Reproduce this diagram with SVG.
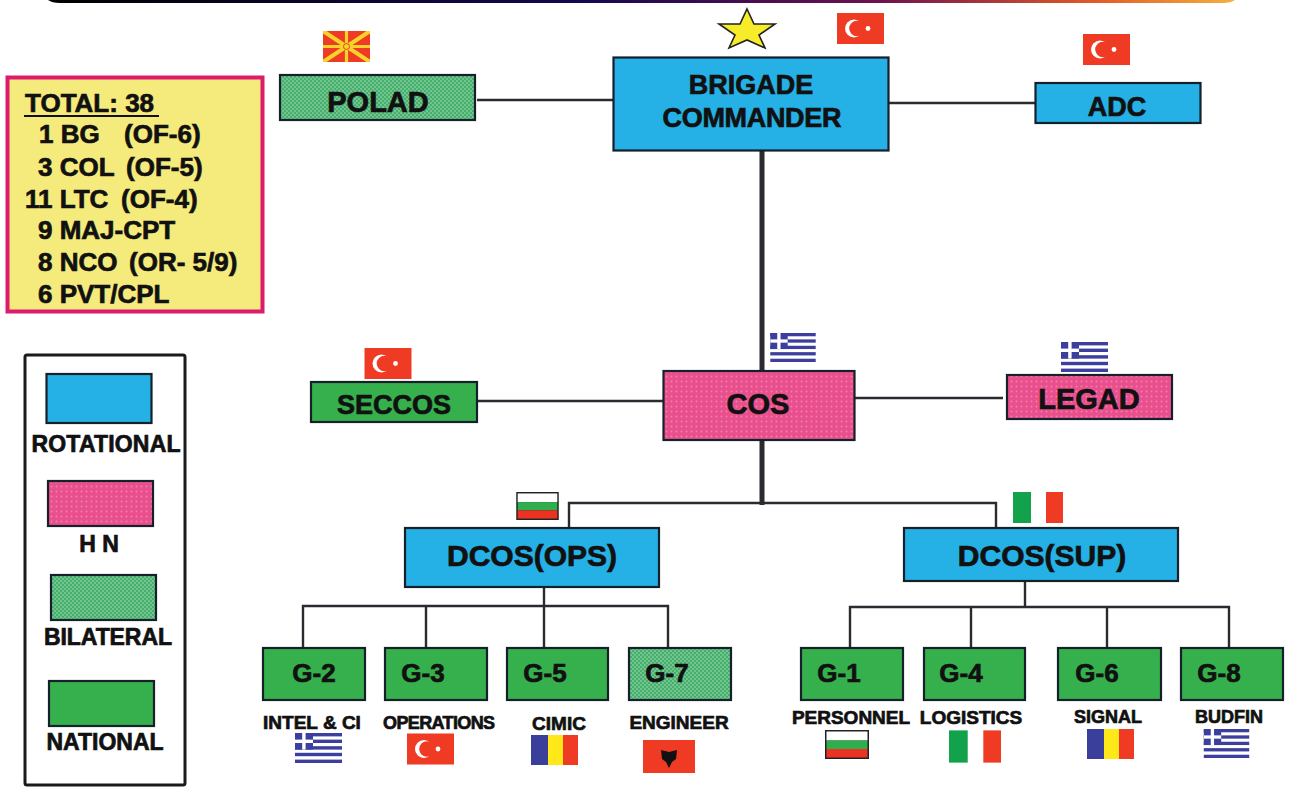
<svg xmlns="http://www.w3.org/2000/svg" xmlns:xlink="http://www.w3.org/1999/xlink" width="1290" height="787" viewBox="0 0 1290 787">
<style>
text{font-family:"Liberation Sans",Arial,sans-serif;font-weight:700;fill:#111;stroke:#111;stroke-width:.7}
.box{stroke:#15202b;stroke-width:2.2}
.rot{fill:#25b0e6}.hn{fill:url(#pHN)}.bi{fill:url(#pBI)}.nat{fill:#36b04c}
.c{text-anchor:middle}
.n{font-size:27px}.w{font-size:29px}.d{font-size:30px}.g{font-size:26px}.s{font-size:19px}.ss{font-size:18px}.l{font-size:23px}.t{font-size:26px}
#connectors path{fill:none;stroke:#2b2a30;stroke-width:2.4}
#connectors path.thick{stroke-width:5}
</style>
<defs>
<linearGradient id="bar" x1="0" x2="1" y1="0" y2="0"><stop offset="0" stop-color="#000"/><stop offset=".45" stop-color="#14084f"/><stop offset=".7" stop-color="#6d1250"/><stop offset=".88" stop-color="#df5a26"/><stop offset="1" stop-color="#f5b03c"/></linearGradient>
<pattern id="pHN" width="5" height="5" patternUnits="userSpaceOnUse"><rect width="5" height="5" fill="#e94f8d"/><circle cx="1.500" cy="1.500" r="1" fill="#ef7fab"/></pattern>
<pattern id="pBI" width="4" height="4" patternUnits="userSpaceOnUse"><rect width="4" height="4" fill="#45b06c"/><rect x="0" y="0" width="2" height="2" fill="#74c492"/><rect x="2" y="2" width="2" height="2" fill="#74c492"/></pattern>
<symbol id="gr" viewBox="0 0 47 30"><rect width="47" height="30" fill="#fff"/><g fill="#3c3f9e"><rect y="0" width="47" height="3.4"/><rect y="6.6" width="47" height="3.4"/><rect y="13.2" width="47" height="3.4"/><rect y="19.8" width="47" height="3.4"/><rect y="26.6" width="47" height="3.4"/><rect width="18" height="16.6"/></g><rect x="7.2" width="3.4" height="16.6" fill="#fff"/><rect y="6.6" width="18" height="3.4" fill="#fff"/></symbol>
<symbol id="tr" viewBox="0 0 47 31"><rect width="47" height="31" fill="#ef3a24"/><circle cx="17" cy="15.5" r="9" fill="#fff"/><circle cx="20" cy="15.5" r="7.8" fill="#ef3a24"/><circle cx="31" cy="15.5" r="2.4" fill="#fff"/></symbol>
<symbol id="ro" viewBox="0 0 47 30"><rect width="17" height="30" fill="#3a3f9c"/><rect x="17" width="15" height="30" fill="#ffe81a"/><rect x="32" width="15" height="30" fill="#ef3a24"/></symbol>
<symbol id="it" viewBox="0 0 50 31"><rect width="50" height="31" fill="#fff"/><rect width="18" height="31" fill="#12a24c"/><rect x="33" width="17" height="31" fill="#ef3a24"/></symbol>
<symbol id="bg" viewBox="0 0 44 29"><rect width="44" height="29" fill="#222"/><rect x="1.500" y="1.500" width="41" height="9" fill="#fff"/><rect x="1.500" y="10.500" width="41" height="8.500" fill="#2fae4e"/><rect x="1.500" y="19" width="41" height="8.500" fill="#ec3323"/></symbol>
<symbol id="mk" viewBox="0 0 47 31"><rect width="47" height="31" fill="#ef3a24"/><g stroke="#f5d32a" stroke-width="3.2"><path d="M23.500 0V31M0 15.500H47"/><path d="M0 0L47 31M47 0L0 31" stroke-width="4"/></g><circle cx="23.500" cy="15.500" r="3" fill="#f5d32a" stroke="#ef3a24" stroke-width="1"/></symbol>
<symbol id="al" viewBox="0 0 52 33"><rect width="52" height="33" fill="#ef3a24"/><path d="M18 10l8 2 8-2-1 9-4 3-3 6-3-6-4-3z" fill="#111"/></symbol>
</defs>
<rect width="1290" height="787" fill="#fff"/>
<path d="M48 0H1235Q1231 3 1222 3H60Q52 3 48 0Z" fill="url(#bar)"/>

<g id="connectors">
<path d="M477 100H613"/><path d="M888 103H1035"/><path class="thick" d="M762 150V505"/>
<path d="M478 401H663"/><path d="M855 398H1003"/>
<path d="M569 528V503H996V528"/>
<path d="M544 587V606"/><path d="M303 648V606H668V648"/><path d="M426 606V648"/><path d="M544 606V648"/>
<path d="M1025 581V607"/><path d="M850 648V607H1229V648"/><path d="M971 607V648"/><path d="M1107 607V648"/>
</g>

<g id="total"><rect x="7.500" y="77.500" width="255" height="234" fill="#f5ea7c" stroke="#dd1b6e" stroke-width="4"/>
<text x="25" y="112" class="t">TOTAL: 38</text><path d="M24 116H159" stroke="#111" stroke-width="2"/>
<text x="39" y="143" class="t">1 BG</text><text x="124" y="143" class="t">(OF-6)</text>
<text x="38" y="176" class="t">3 COL</text><text x="126" y="176" class="t">(OF-5)</text>
<text x="25" y="208" class="t">11 LTC</text><text x="121" y="208" class="t">(OF-4)</text>
<text x="38" y="239" class="t">9 MAJ-CPT</text>
<text x="38" y="271" class="t">8 NCO</text><text x="129" y="271" class="t">(OR- 5/9)</text>
<text x="38" y="303" class="t">6 PVT/CPL</text></g>

<g id="legend"><rect x="25" y="355" width="160" height="430" rx="2" fill="#fff" stroke="#1a1a1a" stroke-width="3"/>
<rect class="box rot" x="46.500" y="374" width="105" height="49"/><text x="106" y="452" class="l c" textLength="149">ROTATIONAL</text>
<rect class="box hn" x="48" y="481" width="105" height="45"/><text x="99" y="552" class="l c">H N</text>
<rect class="box bi" x="51" y="575" width="105" height="45"/><text x="108" y="645" class="l c" textLength="128">BILATERAL</text>
<rect class="box nat" x="49" y="681" width="105" height="45"/><text x="105" y="750" class="l c">NATIONAL</text></g>

<g id="polad"><rect class="box bi" x="280" y="75" width="195" height="45"/><text x="378" y="112" class="w c">POLAD</text><use href="#mk" x="323" y="31" width="47" height="31"/></g>
<g id="commander"><rect class="box rot" x="613.500" y="57.500" width="275" height="93"/><text x="751" y="94" class="n c">BRIGADE</text><text x="752" y="127" class="n c" textLength="179">COMMANDER</text>
<polygon points="747,9 754,24 775,24 759,35 765,48 747,40 729,48 735,35 719,24 740,24" fill="#f7ec2a" stroke="#222" stroke-width="1.600"/><use href="#tr" x="837" y="13" width="47" height="31"/></g>
<g id="adc"><rect class="box rot" x="1035.500" y="83" width="165" height="40"/><text x="1117" y="116" class="n c">ADC</text><use href="#tr" x="1083" y="34" width="47" height="31"/></g>
<g id="cos"><rect class="box hn" x="663.500" y="371" width="191" height="69"/><text x="758" y="414" class="w c">COS</text><use href="#gr" x="770" y="333" width="46" height="29"/></g>
<g id="seccos"><rect class="box nat" x="311" y="382" width="166" height="40"/><text x="394" y="414" class="n c">SECCOS</text><use href="#tr" x="364" y="348" width="48" height="31"/></g>
<g id="legad"><rect class="box hn" x="1007" y="375" width="165" height="44"/><text x="1089" y="409" class="w c">LEGAD</text><use href="#gr" x="1061" y="342" width="47" height="30"/></g>
<g id="dcos-ops"><rect class="box rot" x="405" y="528" width="254" height="59"/><text x="532" y="566" class="d c">DCOS(OPS)</text><use href="#bg" x="516" y="492" width="43" height="28"/></g>
<g id="dcos-sup"><rect class="box rot" x="904" y="528" width="274" height="53"/><text x="1042" y="566" class="d c">DCOS(SUP)</text><use href="#it" x="1013" y="492" width="50" height="31"/></g>

<g id="g2"><rect class="box nat" x="263" y="648" width="102" height="52"/><text x="314" y="682" class="g c">G-2</text><text x="312" y="729" class="s c">INTEL &amp; CI</text><use href="#gr" x="295" y="733" width="47" height="30"/></g>
<g id="g3"><rect class="box nat" x="385" y="648" width="102" height="52"/><text x="423" y="682" class="g c">G-3</text><text x="439" y="729" class="ss c" textLength="112">OPERATIONS</text><use href="#tr" x="407" y="733" width="47" height="32"/></g>
<g id="g5"><rect class="box nat" x="507" y="648" width="101" height="52"/><text x="545" y="682" class="g c">G-5</text><text x="559" y="730" class="s c">CIMIC</text><use href="#ro" x="531" y="735" width="47" height="30"/></g>
<g id="g7"><rect class="box bi" x="629" y="648" width="102" height="52"/><text x="667" y="682" class="g c">G-7</text><text x="679" y="729" class="s c">ENGINEER</text><use href="#al" x="643" y="740" width="52" height="33"/></g>
<g id="g1"><rect class="box nat" x="801" y="648" width="102" height="52"/><text x="839" y="682" class="g c">G-1</text><text x="851" y="724" class="s c">PERSONNEL</text><use href="#bg" x="825" y="730" width="44" height="29"/></g>
<g id="g4"><rect class="box nat" x="924" y="648" width="101" height="52"/><text x="961" y="682" class="g c">G-4</text><text x="971" y="724" class="s c">LOGISTICS</text><use href="#it" x="949" y="730" width="52" height="33"/></g>
<g id="g6"><rect class="box nat" x="1058" y="648" width="103" height="52"/><text x="1097" y="682" class="g c">G-6</text><text x="1108" y="723" class="ss c">SIGNAL</text><use href="#ro" x="1087" y="729" width="47" height="30"/></g>
<g id="g8"><rect class="box nat" x="1181" y="648" width="102" height="52"/><text x="1219" y="682" class="g c">G-8</text><text x="1229" y="723" class="ss c">BUDFIN</text><use href="#gr" x="1203" y="729" width="47" height="29"/></g>
</svg>
